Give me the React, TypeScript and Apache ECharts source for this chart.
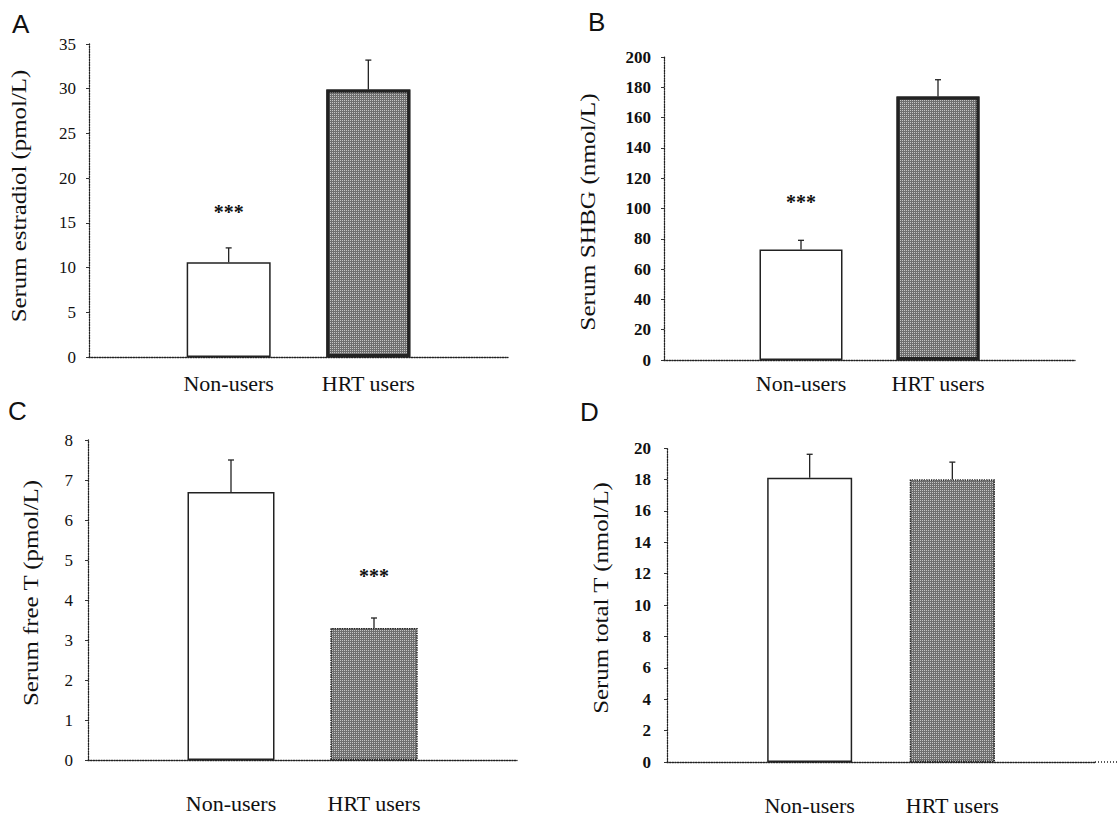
import React, { useEffect, useRef } from "react";
import * as echarts from "echarts";

const categories = ["Non-users", "HRT users"];
const axisCategories = ["", ...categories, ""];

const estradiolMean = [10.6, 29.9];
const estradiolErr = [1.6, 3.3];
const shbgMean = [73, 174];
const shbgErr = [6, 11];
const freeTMean = [6.7, 3.3];
const freeTErr = [0.8, 0.25];
const totalTMean = [18.1, 18.0];
const totalTErr = [1.5, 1.1];

const sigA = ["***", ""];
const sigB = ["***", ""];
const sigC = ["", "***"];
const sigD = ["", ""];

const yTicksA = { max: 35, interval: 5 };
const yTicksB = { max: 200, interval: 20 };
const yTicksC = { max: 8, interval: 1 };
const yTicksD = { max: 20, interval: 2 };

const panelLetters = ["A", "B", "C", "D"];
const yNames = [
  "Serum estradiol (pmol/L)",
  "Serum SHBG (nmol/L)",
  "Serum free T (pmol/L)",
  "Serum total T (nmol/L)",
];

const SERIF = "'Liberation Serif', 'Times New Roman', serif";

const panels = [
  {
    mean: estradiolMean, err: estradiolErr, sig: sigA, ticks: yTicksA,
    grid: { left: 89, top: 44, width: 419, height: 313 },
    barWidth: 84, catMargin: 15, tickMargin: 13, tickBold: false, hrtBorder: 3,
    name: { x: 19, y: 196, scale: 1.13 }, letter: { x: 12, y: 24 }, starOffset: 36,
  },
  {
    mean: shbgMean, err: shbgErr, sig: sigB, ticks: yTicksB,
    grid: { left: 664, top: 57, width: 411, height: 303 },
    barWidth: 83, catMargin: 12, tickMargin: 13, tickBold: true, hrtBorder: 3,
    name: { x: 588, y: 212, scale: 1.15 }, letter: { x: 588, y: 22 }, starOffset: 38,
  },
  {
    mean: freeTMean, err: freeTErr, sig: sigC, ticks: yTicksC,
    grid: { left: 88, top: 440, width: 429, height: 320 },
    barWidth: 87, catMargin: 32, tickMargin: 15, tickBold: false, hrtBorder: 1.2,
    name: { x: 31, y: 593, scale: 1.13 }, letter: { x: 8, y: 411 }, starOffset: 42,
  },
  {
    mean: totalTMean, err: totalTErr, sig: sigD, ticks: yTicksD,
    grid: { left: 667, top: 448, width: 428, height: 314 },
    barWidth: 85, catMargin: 32, tickMargin: 16, tickBold: true, hrtBorder: 1.2,
    name: { x: 601, y: 598, scale: 1.13 }, letter: { x: 580, y: 412 }, starOffset: 38,
  },
];

const axisLine = { show: true, lineStyle: { color: "#222", width: 1.3, type: "dotted" as const } };

export default function App() {
  const ref = useRef<HTMLDivElement>(null);
  useEffect(() => {
    if (!ref.current) return;
    const chart = echarts.init(ref.current, undefined, { renderer: "svg" });

    const grid: any[] = [];
    const xAxis: any[] = [];
    const yAxis: any[] = [];
    const series: any[] = [];
    const graphic: any[] = [];

    panels.forEach((p, i) => {
      grid.push({ ...p.grid, containLabel: false });
      xAxis.push({
        type: "category",
        gridIndex: i,
        data: axisCategories,
        boundaryGap: false,
        axisLine,
        axisTick: { show: false },
        axisLabel: {
          interval: 0,
          margin: p.catMargin,
          fontFamily: SERIF,
          fontSize: 22,
          color: "#111",
        },
      });
      yAxis.push({
        type: "value",
        gridIndex: i,
        min: 0,
        max: p.ticks.max,
        interval: p.ticks.interval,
        splitLine: { show: false },
        axisLine,
        axisTick: { show: true, length: 3, lineStyle: { color: "#333" } },
        axisLabel: {
          margin: p.tickMargin,
          fontFamily: SERIF,
          fontSize: 17,
          fontWeight: p.tickBold ? "bold" : "normal",
          color: "#111",
        },
      });
      const barData: any[] = ["-"];
      p.mean.forEach((v, k) => {
        if (k === 0) {
          barData.push({
            value: v,
            itemStyle: { color: "#ffffff", borderColor: "#222", borderWidth: 1.5 },
          });
        } else {
          barData.push({
            value: v,
            itemStyle: {
              color: "#6e6e6e",
              borderColor: "#222",
              borderWidth: p.hrtBorder,
              borderType: p.hrtBorder > 2 ? "solid" : "dotted",
              decal: {
                symbol: "rect",
                symbolSize: 1,
                color: "rgba(255,255,255,0.6)",
                dashArrayX: [1, 1],
                dashArrayY: [1, 1],
                rotation: 0,
              },
            },
          });
        }
      });
      barData.push("-");
      series.push({
        type: "bar",
        xAxisIndex: i,
        yAxisIndex: i,
        barWidth: p.barWidth,
        data: barData,
        z: 2,
      });
      const sig = p.sig;
      const off = p.starOffset;
      series.push({
        type: "custom",
        xAxisIndex: i,
        yAxisIndex: i,
        z: 5,
        data: p.mean.map((v, k) => [k + 1, v, p.err[k]]),
        renderItem: (params: any, api: any) => {
          const x = api.value(0);
          const m = api.value(1);
          const e = api.value(2);
          const a = api.coord([x, m]);
          const b = api.coord([x, m + e]);
          const children: any[] = [
            { type: "line", shape: { x1: a[0], y1: a[1], x2: b[0], y2: b[1] }, style: { stroke: "#222", lineWidth: 1.3 } },
            { type: "line", shape: { x1: b[0] - 3, y1: b[1], x2: b[0] + 3, y2: b[1] }, style: { stroke: "#222", lineWidth: 1.3 } },
          ];
          const s = sig[params.dataIndex];
          if (s) {
            children.push({
              type: "text",
              x: b[0],
              y: b[1] - off,
              style: {
                text: s,
                fontFamily: SERIF,
                fontSize: 20,
                fontWeight: "bold",
                fill: "#111",
                align: "center",
                verticalAlign: "middle",
              },
            });
          }
          return { type: "group", children };
        },
      });
      graphic.push({
        type: "text",
        x: p.name.x,
        y: p.name.y,
        rotation: Math.PI / 2,
        scaleX: p.name.scale,
        style: {
          text: yNames[i],
          fontFamily: SERIF,
          fontSize: 22,
          fill: "#111",
          align: "center",
          verticalAlign: "middle",
        },
      });
      graphic.push({
        type: "text",
        x: p.letter.x,
        y: p.letter.y,
        style: {
          text: panelLetters[i],
          fontFamily: "'Liberation Sans', Arial, sans-serif",
          fontSize: 26,
          fill: "#111",
          align: "left",
          verticalAlign: "middle",
        },
      });
    });

    graphic.push({
      type: "line",
      shape: { x1: 1095, y1: 762, x2: 1117, y2: 762 },
      style: { stroke: "#222", lineWidth: 1.3, lineDash: [1, 2] },
    });

    chart.setOption({
      animation: false,
      backgroundColor: "#ffffff",
      grid,
      xAxis,
      yAxis,
      series,
      graphic,
    });
    return () => chart.dispose();
  }, []);
  return (
    <div
      ref={ref}
      style={{ position: "absolute", left: 0, top: 0, width: 1117, height: 816, background: "#fff" }}
    />
  );
}
